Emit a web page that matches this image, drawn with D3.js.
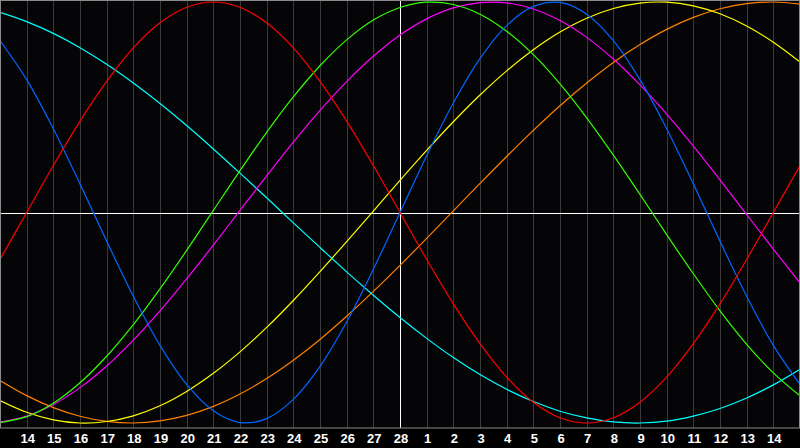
<!DOCTYPE html>
<html>
<head>
<meta charset="utf-8">
<script src="https://cdn.jsdelivr.net/npm/d3@7"></script>
<style>
  html, body { margin: 0; padding: 0; background: #000; }
  svg { display: block; }
</style>
</head>
<body>
<div class="chart"></div>
<script>
// day labels along the bottom, one per gridline
const tickLabels = ["14", "15", "16", "17", "18", "19", "20", "21", "22", "23", "24", "25", "26", "27", "28",
  "1", "2", "3", "4", "5", "6", "7", "8", "9", "10", "11", "12", "13", "14"];

// curve values sampled per day, from one day before the first label to one day after the last
const red = [-0.223, 0, 0.223, 0.434, 0.623, 0.782, 0.901, 0.975, 1, 0.975, 0.901, 0.782, 0.623, 0.434, 0.223, 0,
  -0.223, -0.434, -0.623, -0.782, -0.901, -0.975, -1, -0.975, -0.901, -0.782, -0.623, -0.434, -0.223, 0, 0.223];
const blue = [0.817, 0.631, 0.398, 0.136, -0.136, -0.398, -0.631, -0.817, -0.942, -0.998, -0.979, -0.888, -0.731, -0.520, -0.270, 0,
  0.270, 0.520, 0.731, 0.888, 0.979, 0.998, 0.942, 0.817, 0.631, 0.398, 0.136, -0.136, -0.398, -0.631, -0.817];
const green = [-0.998, -0.970, -0.906, -0.809, -0.683, -0.533, -0.363, -0.180, 0.010, 0.199, 0.381, 0.549, 0.697, 0.820, 0.914, 0.974,
  0.999, 0.988, 0.942, 0.861, 0.750, 0.611, 0.450, 0.273, 0.086, -0.105, -0.291, -0.467, -0.626, -0.762, -0.871];
const magenta = [-0.996, -0.967, -0.912, -0.832, -0.729, -0.606, -0.467, -0.315, -0.155, 0.010, 0.174, 0.334, 0.485, 0.622, 0.742, 0.843,
  0.920, 0.972, 0.997, 0.996, 0.967, 0.912, 0.832, 0.729, 0.606, 0.467, 0.315, 0.155, -0.010, -0.174, -0.334];
const yellow = [-0.893, -0.949, -0.985, -1.000, -0.993, -0.966, -0.918, -0.850, -0.764, -0.662, -0.546, -0.418, -0.281, -0.138, 0.007, 0.153,
  0.295, 0.431, 0.558, 0.673, 0.773, 0.857, 0.923, 0.969, 0.995, 0.999, 0.982, 0.944, 0.886, 0.809, 0.715];
const orange = [-0.798, -0.870, -0.927, -0.968, -0.992, -1.000, -0.990, -0.964, -0.921, -0.862, -0.789, -0.702, -0.603, -0.493, -0.375, -0.251,
  -0.123, 0.008, 0.138, 0.266, 0.390, 0.507, 0.615, 0.713, 0.798, 0.870, 0.927, 0.968, 0.992, 1.000, 0.990];
const cyan = [0.951, 0.907, 0.851, 0.783, 0.704, 0.615, 0.518, 0.413, 0.302, 0.187, 0.070, -0.049, -0.166, -0.282, -0.393, -0.499,
  -0.598, -0.689, -0.770, -0.840, -0.898, -0.944, -0.976, -0.995, -1.000, -0.991, -0.967, -0.931, -0.881, -0.819, -0.745];

const series = [
  { values: orange, color: "#ff8000" },
  { values: yellow, color: "#ffff00" },
  { values: cyan, color: "#00ffff" },
  { values: magenta, color: "#ff00ff" },
  { values: green, color: "#33ff00" },
  { values: blue, color: "#0066ff" },
  { values: red, color: "#ff0000" }
];

const width = 800, height = 448;
const plotBottom = 428;

const svg = d3.select(".chart").append("svg")
  .attr("width", width)
  .attr("height", height);

svg.append("rect")
  .attr("width", width)
  .attr("height", height)
  .attr("fill", "#000");

// plot background
svg.append("rect")
  .attr("x", 0)
  .attr("y", 0)
  .attr("width", width)
  .attr("height", plotBottom)
  .attr("fill", "#050508");

const x = d3.scaleLinear().domain([-1, tickLabels.length]).range([0, width]);
const y = d3.scaleLinear().domain([-1, 1]).range([423, 2]);

svg.append("clipPath").attr("id", "plotclip")
  .append("rect")
  .attr("x", 0).attr("y", 0)
  .attr("width", width).attr("height", plotBottom);

// day gridlines
svg.append("g")
  .selectAll("line")
  .data(tickLabels)
  .join("line")
  .attr("x1", (d, i) => Math.round(x(i)) + 0.5)
  .attr("x2", (d, i) => Math.round(x(i)) + 0.5)
  .attr("y1", 0)
  .attr("y2", plotBottom)
  .attr("stroke", "#3a3a3a")
  .attr("stroke-width", 1);

// today lines
svg.append("line")
  .attr("x1", Math.round(x(14)) + 0.5).attr("x2", Math.round(x(14)) + 0.5)
  .attr("y1", 0).attr("y2", plotBottom)
  .attr("stroke", "#ffffff");
svg.append("line")
  .attr("x1", 0).attr("x2", width)
  .attr("y1", Math.round(y(0)) + 0.5).attr("y2", Math.round(y(0)) + 0.5)
  .attr("stroke", "#ffffff");

const line = d3.line()
  .x((d, i) => x(i - 1))
  .y(d => y(d))
  .curve(d3.curveCatmullRom);

svg.append("g")
  .attr("clip-path", "url(#plotclip)")
  .selectAll("path")
  .data(series)
  .join("path")
  .attr("d", d => line(d.values))
  .attr("fill", "none")
  .attr("stroke", d => d.color)
  .attr("stroke-width", 1.2);

// border
svg.append("rect")
  .attr("x", 0.5).attr("y", 0.5)
  .attr("width", width - 1).attr("height", plotBottom - 0.5)
  .attr("fill", "none")
  .attr("stroke", "#8a8a8a")
  .attr("stroke-width", 1);

// day labels
svg.append("g")
  .selectAll("text")
  .data(tickLabels)
  .join("text")
  .text(d => d)
  .attr("x", (d, i) => x(i) + 1)
  .attr("y", 443)
  .attr("text-anchor", "middle")
  .style("fill", "white")
  .style("font-family", "'Liberation Sans', Arial, sans-serif")
  .style("font-weight", "bold")
  .style("font-size", "13px");
</script>
</body>
</html>
